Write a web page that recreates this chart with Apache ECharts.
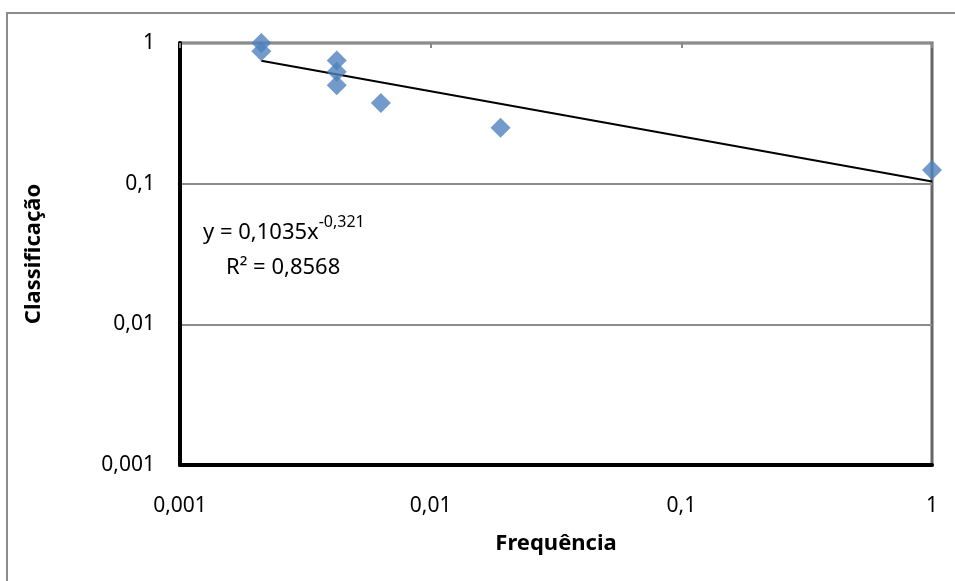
<!DOCTYPE html>
<html>
    <head>
        <meta charset="utf-8">
        <script src="https://cdn.jsdelivr.net/npm/echarts@6/dist/echarts.min.js"></script>
        <style>
            html, body { margin: 0; padding: 0; background: #fff; }
            #main { width: 955px; height: 581px; }
        </style>
    </head>
    <body>
        <div id="main"></div>
        <script>
            // Frequência (x) vs Classificação (y)
            var freq = [0.00211, 0.00211, 0.00422, 0.00422, 0.00422, 0.00633, 0.019, 1];
            var rank = [1, 0.875, 0.75, 0.625, 0.5, 0.375, 0.25, 0.125];

            // power trendline y = 0,1035x^-0,321 (end points)
            var trendX = [0.00211, 1];
            var trendY = [0.748, 0.1035];

            var font = 'Noto Sans';

            var fmt = function (v) {
                return String(+Number(v).toPrecision(3)).replace('.', ',');
            };

            var points = freq.map(function (f, i) { return [f, rank[i]]; });
            var trend = trendX.map(function (x, i) { return [x, trendY[i]]; });

            var chart = echarts.init(document.getElementById('main'));

            chart.setOption({
                animation: false,
                backgroundColor: '#fff',
                textStyle: { fontFamily: font },
                grid: {
                    left: 180,
                    right: 23,
                    top: 43,
                    bottom: 116,
                    show: true,
                    borderColor: '#666',
                    borderWidth: 3
                },
                graphic: [{
                    type: 'rect',
                    shape: { x: 7, y: 13, width: 1000, height: 700 },
                    style: { fill: 'none', stroke: '#8c8c8c', lineWidth: 2 },
                    silent: true
                }, {
                    type: 'text',
                    x: 203,
                    y: 214,
                    style: {
                        text: '{a|y = 0,1035x}{s|-0,321}',
                        rich: {
                            a: { fontSize: 22, fontFamily: font, fill: '#000', lineHeight: 30, verticalAlign: 'bottom' },
                            s: { fontSize: 16, fontFamily: font, fill: '#000', lineHeight: 30, verticalAlign: 'top' }
                        }
                    }
                }, {
                    type: 'text',
                    x: 226,
                    y: 268,
                    style: {
                        text: 'R² = 0,8568',
                        fontSize: 22,
                        fontFamily: font,
                        fill: '#000',
                        verticalAlign: 'middle'
                    }
                }],
                xAxis: [{
                    type: 'log',
                    logBase: 10,
                    min: 0.001,
                    max: 1,
                    name: 'Frequência',
                    nameLocation: 'middle',
                    nameGap: 68,
                    nameTextStyle: { fontSize: 22, fontWeight: 'bold', color: '#000', fontFamily: font },
                    axisLine: { show: true, lineStyle: { color: '#000', width: 4 } },
                    axisTick: { show: false },
                    minorTick: { show: false },
                    splitLine: { show: false },
                    axisLabel: {
                        fontSize: 21,
                        color: '#000',
                        margin: 31,
                        formatter: fmt
                    }
                }, {
                    type: 'log',
                    logBase: 10,
                    min: 0.001,
                    max: 1,
                    position: 'top',
                    axisLine: { show: false },
                    axisTick: { show: true, inside: true, length: 5, lineStyle: { color: '#888', width: 2 } },
                    axisLabel: { show: false },
                    splitLine: { show: false }
                }],
                yAxis: {
                    type: 'log',
                    logBase: 10,
                    min: 0.001,
                    max: 1,
                    name: 'Classificação',
                    nameLocation: 'middle',
                    nameGap: 135,
                    nameTextStyle: { fontSize: 22, fontWeight: 'bold', color: '#000', fontFamily: font },
                    axisLine: { show: true, lineStyle: { color: '#000', width: 4 } },
                    axisTick: { show: false },
                    minorTick: { show: false },
                    splitLine: { show: true, lineStyle: { color: '#8c8c8c', width: 2 } },
                    axisLabel: {
                        fontSize: 21,
                        color: '#000',
                        margin: 25,
                        formatter: fmt
                    }
                },
                series: [{
                    name: 'linha de tendência',
                    type: 'line',
                    data: trend,
                    showSymbol: false,
                    symbol: 'none',
                    lineStyle: { color: '#000', width: 2 },
                    z: 2
                }, {
                    name: 'dados',
                    type: 'scatter',
                    data: points,
                    symbol: 'diamond',
                    symbolSize: [20, 20],
                    itemStyle: { color: '#4f81bd' },
                    z: 3
                }]
            });
        </script>
    </body>
</html>
